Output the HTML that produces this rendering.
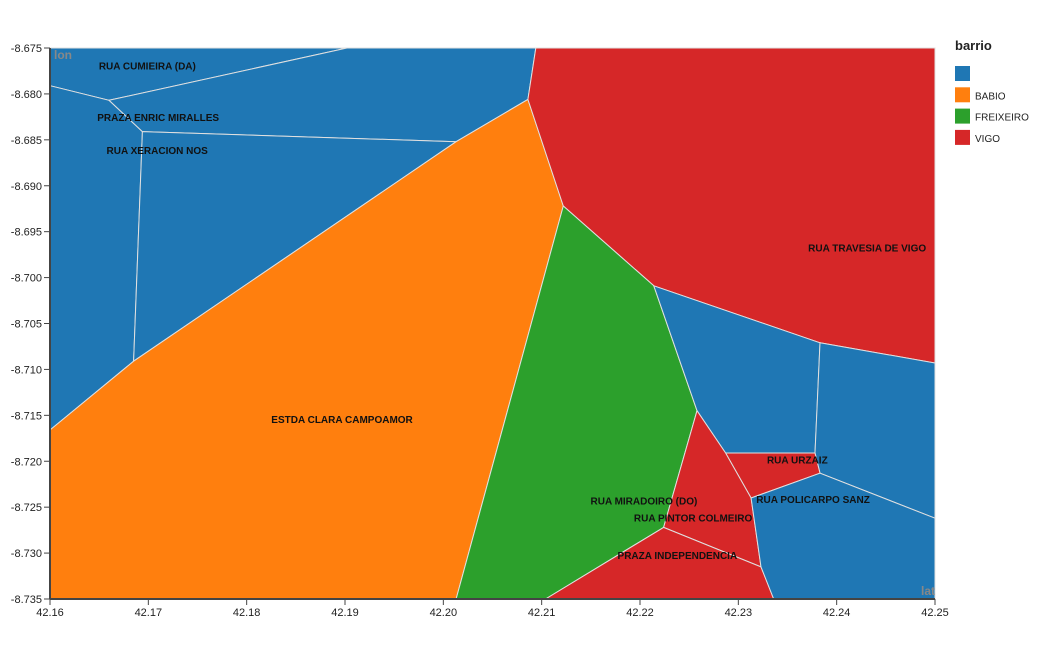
<!DOCTYPE html>
<html><head><meta charset="utf-8"><style>
body{margin:0;background:#fff;font-family:"Liberation Sans",Arial,sans-serif}
svg text{font-family:"Liberation Sans",Arial,sans-serif}
</style></head><body>
<svg id="chart" width="1040" height="650"></svg>
<script>
const xTicks=[42.16,42.17,42.18,42.19,42.20,42.21,42.22,42.23,42.24,42.25];
const yTicks=[-8.675,-8.680,-8.685,-8.690,-8.695,-8.700,-8.705,-8.710,-8.715,-8.720,-8.725,-8.730,-8.735];
const cellBarrio=["","","","","BABIO","VIGO","FREIXEIRO","","","VIGO","VIGO","VIGO",""];
const cellLat=[
[42.16,42.1902,42.1660,42.16],
[42.16,42.1660,42.1694,42.1685,42.16],
[42.1660,42.1902,42.2094,42.2086,42.2013,42.1694],
[42.1694,42.2013,42.1685],
[42.16,42.1685,42.2013,42.2086,42.2122,42.2013,42.16],
[42.2094,42.25,42.25,42.2383,42.2214,42.2122,42.2086],
[42.2122,42.2214,42.2258,42.2224,42.2104,42.2013],
[42.2214,42.2383,42.2378,42.2287,42.2258],
[42.2383,42.25,42.25,42.2383,42.2378],
[42.2287,42.2378,42.2383,42.2313],
[42.2258,42.2287,42.2313,42.2323,42.2224],
[42.2224,42.2323,42.2336,42.2104],
[42.2313,42.2383,42.25,42.25,42.2336,42.2323]];
const cellLon=[
[-8.675,-8.675,-8.6807,-8.6791],
[-8.6791,-8.6807,-8.6841,-8.7091,-8.7166],
[-8.6807,-8.675,-8.675,-8.6806,-8.6852,-8.6841],
[-8.6841,-8.6852,-8.7091],
[-8.7166,-8.7091,-8.6852,-8.6806,-8.6922,-8.735,-8.735],
[-8.675,-8.675,-8.7093,-8.7071,-8.7009,-8.6922,-8.6806],
[-8.6922,-8.7009,-8.7145,-8.7272,-8.735,-8.735],
[-8.7009,-8.7071,-8.7191,-8.7191,-8.7145],
[-8.7071,-8.7093,-8.7262,-8.7213,-8.7191],
[-8.7191,-8.7191,-8.7213,-8.7240],
[-8.7145,-8.7191,-8.7240,-8.7315,-8.7272],
[-8.7272,-8.7315,-8.735,-8.735],
[-8.7240,-8.7213,-8.7262,-8.735,-8.735,-8.7315]];
const labelText=["RUA CUMIEIRA (DA)","PRAZA ENRIC MIRALLES","RUA XERACION NOS","RUA TRAVESIA DE VIGO","ESTDA CLARA CAMPOAMOR","RUA URZAIZ","RUA POLICARPO SANZ","RUA MIRADOIRO (DO)","RUA PINTOR COLMEIRO","PRAZA INDEPENDENCIA"];
const labelLat=[42.1699,42.1710,42.1709,42.2431,42.1897,42.2360,42.2376,42.2204,42.2254,42.2238];
const labelLon=[-8.6769,-8.6825,-8.6861,-8.6967,-8.7154,-8.7198,-8.7241,-8.7243,-8.7261,-8.7302];
const legendKeys=["","BABIO","FREIXEIRO","VIGO"];
const legendColors=["#1f77b4","#ff7f0e","#2ca02c","#d62728"];

const NS="http://www.w3.org/2000/svg";
const svg=document.getElementById('chart');
const X0=50,X1=935,Y0=48,Y1=599;
const xs=v=>X0+(v-42.16)/(0.09)*(X1-X0);
const ys=v=>Y0+(-8.675-v)/(0.06)*(Y1-Y0);
function mk(t,a,p){const e=document.createElementNS(NS,t);for(const k in a)e.setAttribute(k,a[k]);(p||svg).appendChild(e);return e;}
const color=b=>legendColors[legendKeys.indexOf(b)];
for(let i=0;i<cellLat.length;i++){
  const pts=cellLat[i].map((la,j)=>xs(la).toFixed(1)+","+ys(cellLon[i][j]).toFixed(1)).join(" ");
  const p=mk('polygon',{points:pts,fill:color(cellBarrio[i]),stroke:"#e0e0e0","stroke-width":1});
  
  
}
for(let i=0;i<labelText.length;i++){
  const t=mk('text',{x:xs(labelLat[i]),y:ys(labelLon[i])+4,"text-anchor":"middle","font-size":10,"font-weight":"bold",fill:"#111"});
  t.textContent=labelText[i];
  
  
}
// axes
const ax=mk('g',{});


mk('line',{x1:X0,y1:Y0,x2:X0,y2:Y1,stroke:"#444","stroke-width":2},ax);
yTicks.forEach(v=>{const y=ys(v);mk('line',{x1:X0-6,y1:y,x2:X0,y2:y,stroke:"#444"},ax);
 const t=mk('text',{x:X0-8,y:y+4,"text-anchor":"end","font-size":11,fill:"#222"},ax);t.textContent=v.toFixed(3);});
const bx=mk('g',{});


mk('line',{x1:X0,y1:Y1,x2:X1,y2:Y1,stroke:"#444","stroke-width":2},bx);
xTicks.forEach(v=>{const x=xs(v);mk('line',{x1:x,y1:Y1,x2:x,y2:Y1+6,stroke:"#444"},bx);
 const t=mk('text',{x:x,y:Y1+17,"text-anchor":"middle","font-size":11,fill:"#222"},bx);t.textContent=v.toFixed(2);});
const yt=mk('text',{x:54,y:59,"font-size":12,"font-weight":"bold",fill:"#888"});yt.textContent="lon";

const xt=mk('text',{x:921,y:595,"font-size":12,"font-weight":"bold",fill:"#888"});xt.textContent="lat";

// legend
const lg=mk('g',{});


const lt=mk('text',{x:955,y:50,"font-size":13,"font-weight":"bold",fill:"#222"},lg);lt.textContent="barrio";
legendKeys.forEach((k,i)=>{
 const g=mk('g',{},lg);
 
 
 mk('rect',{x:955,y:66+i*21.3,width:15,height:15,fill:legendColors[i]},g);
 const t=mk('text',{x:975,y:78+i*21.3,"font-size":10,fill:"#222"},g);t.textContent=k;
});
</script>
</body></html>
